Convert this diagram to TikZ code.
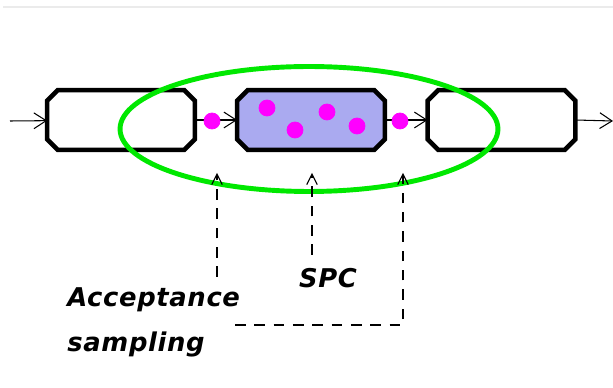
\documentclass[tikz,border=0pt]{standalone}
\usepackage{fontspec}
\setsansfont{DejaVu Sans}
\usetikzlibrary{arrows.meta}

\definecolor{boxblue}{RGB}{170,170,240}
\definecolor{loopgreen}{RGB}{0,232,0}
\definecolor{itemmag}{RGB}{255,0,255}

\tikzset{
  stage/.style={minimum width=2.94cm, minimum height=1.18cm, inner sep=0pt},
  flow/.style={line width=0.6pt, -{Straight Barb[length=7pt,width=9pt]}},
  probe/.style={line width=0.6pt, dash pattern=on 6pt off 5pt, -{Straight Barb[length=6pt,width=6pt]}},
  label/.style={font=\sffamily\bfseries\itshape\fontsize{14.7}{17}\selectfont\addfontfeatures{LetterSpace=2.5}, inner sep=0pt}
}

\begin{document}
\begin{tikzpicture}[x=0.02cm, y=-0.02cm]
  \useasboundingbox (0,0) rectangle (613,388);
  \draw[black!8, line width=0.8pt] (3,7) -- (613,7);

  % Stages
  \node[stage] (prev) at (121,120) {};
  \node[stage] (proc) at (311,120) {};
  \node[stage] (next) at (501.5,120) {};

  \foreach \n/\f in {prev/white, proc/boxblue, next/white}
    \filldraw[fill=\f, line width=2.6pt]
      ([xshift=6pt]\n.north west) -- ([xshift=-6pt]\n.north east)
      -- ([yshift=-6pt]\n.north east) -- ([yshift=6pt]\n.south east)
      -- ([xshift=-6pt]\n.south east) -- ([xshift=6pt]\n.south west)
      -- ([yshift=6pt]\n.south west) -- ([yshift=-6pt]\n.north west) -- cycle;

  \coordinate (in) at (10,121);
  \coordinate (out) at (613,121);

  % Flow
  \draw[flow] (in) -- (prev);
  \draw[flow] (prev) -- (proc);
  \draw[flow] (proc) -- (next);
  \draw[flow] (next.east) -- (out);

  % Items
  \filldraw[itemmag] (212,121) circle (0.16cm);
  \filldraw[itemmag] (400,121) circle (0.16cm);
  \filldraw[itemmag] (267,108) circle (0.16cm);
  \filldraw[itemmag] (295,130) circle (0.16cm);
  \filldraw[itemmag] (327,112) circle (0.16cm);
  \filldraw[itemmag] (357,126) circle (0.16cm);

  % Control loop
  \draw[loopgreen, line width=2.8pt] (309,129) ellipse [x radius=3.78cm, y radius=1.25cm];

  % Probes
  \coordinate (pa) at (217,173);
  \coordinate (pb) at (312,173);
  \coordinate (pc) at (403,173);
  \coordinate (ea) at (217,277);
  \coordinate (eb) at (312,255);
  \coordinate (ec) at (403,325);
  \coordinate (ed) at (235,325);

  \draw[probe] (ea) -- (pa);
  \draw[probe] (eb) -- (pb);
  \draw[probe] (ed) -- (ec) -- (pc);

  \node[label, anchor=base west] (acc) at (67,307) {Acceptance};
  \node[label, anchor=base west] (smp) at (67,352) {sampling};
  \node[label, anchor=base] (spc) at (328,288) {SPC};

\end{tikzpicture}
\end{document}
